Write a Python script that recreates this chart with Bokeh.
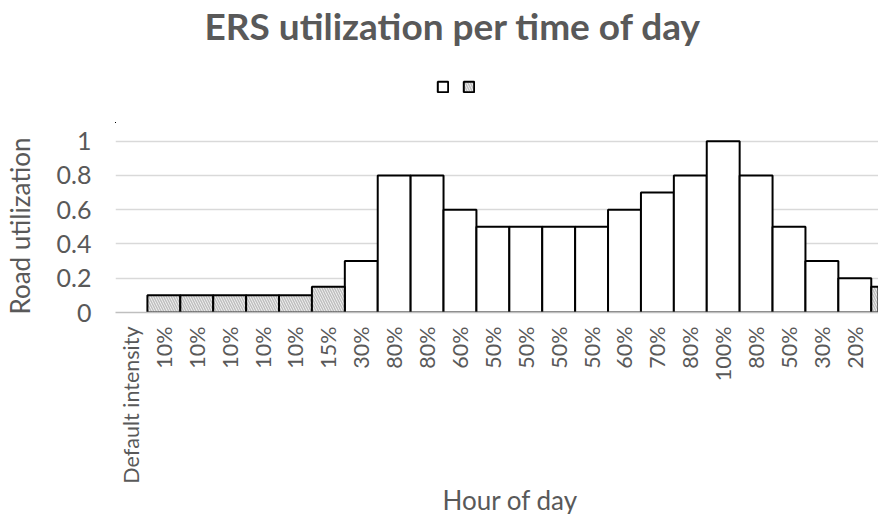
import math
from bokeh.plotting import figure
from bokeh.layouts import column
from bokeh.models import (ColumnDataSource, Legend, LegendItem, Range1d, FixedTicker,
                          Label)
from bokeh.embed import file_html
from bokeh.resources import INLINE

# ---- data ----
title_text = "ERS utilization per time of day"
x_title = "Hour of day"
y_title = "Road utilization"
x_labels = ["Default intensity", "10%", "10%", "10%", "10%", "10%", "15%", "30%",
            "80%", "80%", "60%", "50%", "50%", "50%", "50%", "60%", "70%", "80%",
            "100%", "80%", "50%", "30%", "20%", "15%"]
utilization = [0.0, 0.1, 0.1, 0.1, 0.1, 0.1, 0.15, 0.3,
               0.8, 0.8, 0.6, 0.5, 0.5, 0.5, 0.5, 0.6, 0.7, 0.8,
               1.0, 0.8, 0.5, 0.3, 0.2, 0.15]
off_peak = [False, True, True, True, True, True, True, False,
            False, False, False, False, False, False, False, False, False, False,
            False, False, False, False, False, True]
y_ticks = [0, 0.2, 0.4, 0.6, 0.8, 1]
y_tick_labels = ["0", "0.2", "0.4", "0.6", "0.8", "1"]

idx = list(range(len(x_labels)))
plain = ColumnDataSource(dict(
    x=[i for i in idx if i > 0 and not off_peak[i]],
    top=[utilization[i] for i in idx if i > 0 and not off_peak[i]]))
hatched = ColumnDataSource(dict(
    x=[i for i in idx if off_peak[i]],
    top=[utilization[i] for i in idx if off_peak[i]]))

TEXT = "#595959"
FONT = "Lato"
PLAIN_STYLE = dict(fill_color="white", line_color="black", line_width=2)
HATCH_STYLE = dict(fill_color="#f4f4f4", hatch_pattern="\\", hatch_color="#bfbfbf",
                   hatch_scale=5, hatch_weight=1.5, line_color="black", line_width=2)

W = 878
LEFT = 107            # space left of the plotting frame
FRAME_W = 771
HEADER_H = 123
TOP_PAD = 16
FRAME_H = 173
BOTTOM = 176
FOOTER_H = 26
OFF = 1000            # header offset (keeps the legend's source bars out of view)

# ---- header: title + legend ----
header = figure(width=W, height=HEADER_H, output_backend="svg", toolbar_location=None,
                title=None, x_range=Range1d(OFF, OFF + FRAME_W),
                y_range=Range1d(OFF, OFF + HEADER_H),
                x_axis_location=None, y_axis_location=None, min_border=0,
                min_border_left=LEFT)
header.outline_line_color = None
header.grid.grid_line_color = None
header.add_layout(Label(x=OFF + 341, y=OFF + HEADER_H - 24.5, text=title_text,
                        text_align="center", text_baseline="middle", text_font=FONT,
                        text_font_size="37px", text_font_style="bold",
                        text_color=TEXT))
h1 = header.vbar(x="x", top="top", width=1, source=plain, **PLAIN_STYLE)
h2 = header.vbar(x="x", top="top", width=1, source=hatched, **HATCH_STYLE)
legend = Legend(items=[LegendItem(label=" ", renderers=[h1]),
                       LegendItem(label=" ", renderers=[h2])],
                orientation="horizontal", location=(321, 30),
                glyph_width=13, glyph_height=13, label_standoff=0,
                label_width=1, label_height=13,
                label_text_font_size="6px", spacing=12, padding=0, margin=0,
                border_line_color=None, background_fill_alpha=0)
header.add_layout(legend)

# ---- main chart ----
p = figure(width=W, height=TOP_PAD + FRAME_H + BOTTOM, output_backend="svg",
           toolbar_location=None, title=None,
           x_range=Range1d(-0.47, 22.72), y_range=Range1d(0, 1.01),
           min_border_left=LEFT, min_border_right=0, min_border_top=TOP_PAD,
           min_border_bottom=BOTTOM)

p.vbar(x="x", top="top", width=1.0, source=plain, **PLAIN_STYLE)
p.vbar(x="x", top="top", width=1.0, source=hatched, **HATCH_STYLE)

p.outline_line_color = None
p.xgrid.grid_line_color = None
p.ygrid.grid_line_color = "#d9d9d9"
p.ygrid.grid_line_width = 1.5
p.ygrid.ticker = FixedTicker(ticks=y_ticks)

p.yaxis.ticker = FixedTicker(ticks=y_ticks)
p.yaxis.major_label_overrides = {t: l for t, l in zip(y_ticks, y_tick_labels)}
p.yaxis.axis_line_color = None
p.yaxis.major_tick_line_color = None
p.yaxis.minor_tick_line_color = None
p.yaxis.major_tick_out = 0
p.yaxis.major_label_text_font = FONT
p.yaxis.major_label_text_font_size = "25px"
p.yaxis.major_label_text_color = TEXT
p.yaxis.major_label_standoff = 24
p.yaxis.axis_label = y_title
p.yaxis.axis_label_text_font = FONT
p.yaxis.axis_label_text_font_size = "26px"
p.yaxis.axis_label_text_font_style = "normal"
p.yaxis.axis_label_text_color = TEXT
p.yaxis.axis_label_standoff = 18

p.xaxis.ticker = FixedTicker(ticks=idx)
p.xaxis.major_label_overrides = {i: l for i, l in zip(idx, x_labels)}
p.xaxis.major_label_orientation = math.pi / 2
p.xaxis.axis_line_color = "#bfbfbf"
p.xaxis.axis_line_width = 1.5
p.xaxis.major_tick_line_color = None
p.xaxis.minor_tick_line_color = None
p.xaxis.major_tick_out = 0
p.xaxis.major_label_text_font = FONT
p.xaxis.major_label_text_font_size = "21.5px"
p.xaxis.major_label_text_color = TEXT
p.xaxis.major_label_standoff = 14

# ---- footer: x axis title ----
footer = figure(width=W, height=FOOTER_H, output_backend="svg", toolbar_location=None,
                title=None, x_range=Range1d(0, FRAME_W), y_range=Range1d(0, FOOTER_H),
                x_axis_location=None, y_axis_location=None, min_border=0,
                min_border_left=LEFT)
footer.outline_line_color = None
footer.grid.grid_line_color = None
footer.add_layout(Label(x=399, y=15, text=x_title, text_align="center",
                        text_baseline="middle", text_font=FONT,
                        text_font_size="26px", text_color=TEXT))

open("out.html", "w").write(file_html(column(header, p, footer, spacing=0), INLINE))
